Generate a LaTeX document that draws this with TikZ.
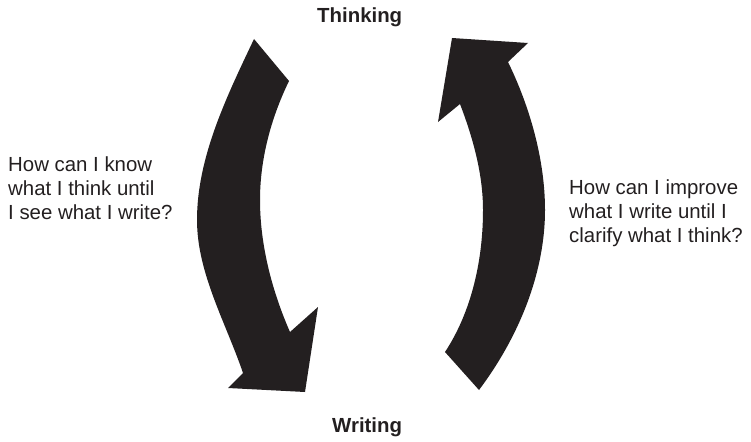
\documentclass[tikz,border=0pt]{standalone}
\usepackage{fontspec}
\setmainfont{Liberation Sans}
\definecolor{inkblack}{HTML}{231F20}
\begin{document}
\begin{tikzpicture}[x=1pt, y=-1pt,
    question/.style={inner sep=0pt, anchor=north west, align=left, text=inkblack,
      font=\fontsize{20.4}{24}\selectfont},
    heading/.style={inner sep=0pt, anchor=base west, text=inkblack,
      font=\fontsize{20.4}{24}\selectfont\bfseries}]
  \useasboundingbox (0,0) rectangle (751,441);

  % left arrow: thinking -> writing
  \fill[inkblack] (254,39) .. controls (227,96) and (197,157) .. (197,220)
    .. controls (197,273) and (226,323) .. (243,373)
    -- (228,388) -- (305,392) -- (318,307) -- (290,332)
    .. controls (272,291) and (260,245) .. (260,200)
    .. controls (260,159) and (271,118) .. (289,81) -- cycle;

  % right arrow: writing -> thinking
  \fill[inkblack] (479,390) .. controls (521,334) and (545,270) .. (545,210)
    .. controls (545,160) and (530,107) .. (508,62)
    -- (528,43) -- (452,38) -- (438,122) -- (460,104)
    .. controls (473,138) and (483,174) .. (483,210)
    .. controls (483,259) and (472,311) .. (445,352) -- cycle;

  \node[heading] (think) at (317,23) {Thinking};
  \node[heading] (write) at (332,432) {Writing};
  \node[question] (leftq) at (8,156.5) {How can I know\\what I think until\\I see what I write?};
  \node[question] (rightq) at (569,179.5) {How can I improve\\what I write until I\\clarify what I think?};
\end{tikzpicture}
\end{document}
